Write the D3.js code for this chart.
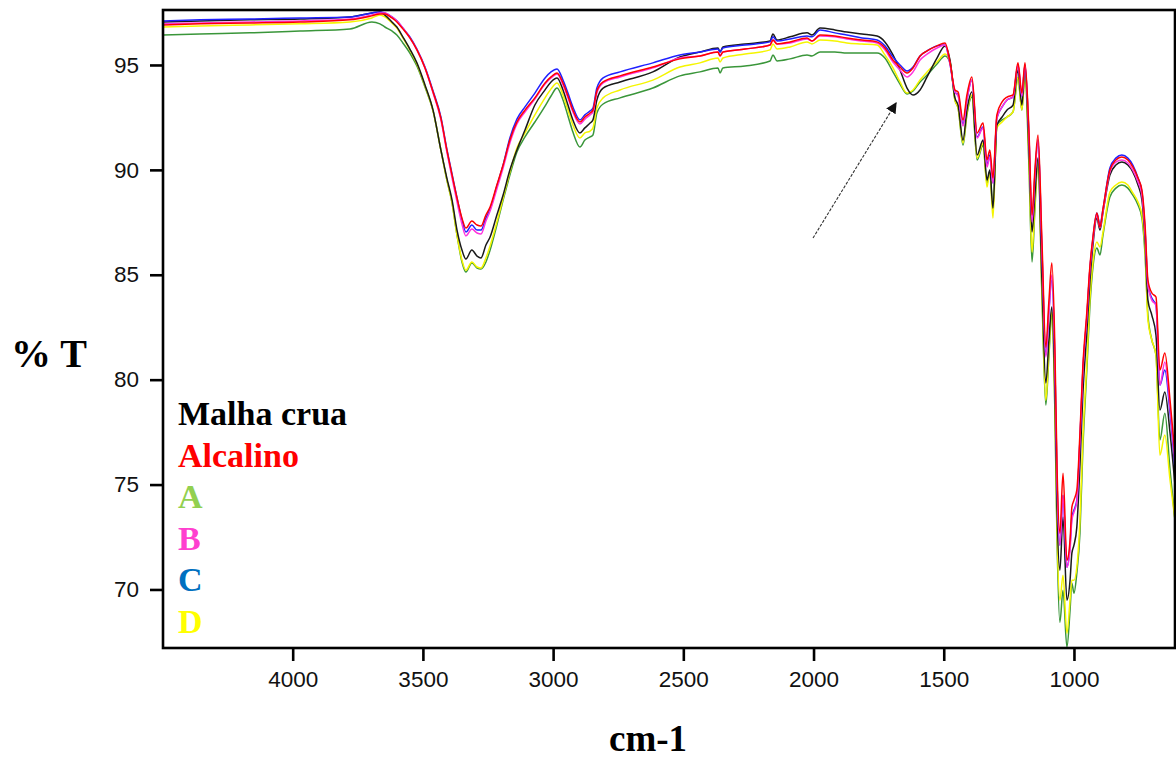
<!DOCTYPE html>
<html>
<head>
<meta charset="utf-8">
<script src="https://cdn.jsdelivr.net/npm/d3@7"></script>
<style>
  html, body { margin: 0; padding: 0; background: #fff; }
  svg { display: block; }
</style>
</head>
<body>
<svg id="chart" width="1176" height="758"></svg>
<script>
// FTIR spectra, % transmittance vs wavenumber (cm-1)
const wavenumbers = [4498, 4356, 4164, 3972, 3780, 3696, 3665, 3646, 3619, 3600,
  3577, 3550, 3523, 3492, 3461, 3431, 3408, 3388, 3369, 3350,
  3335, 3312, 3292, 3277, 3258, 3242, 3216, 3192, 3166, 3139,
  3108, 3070, 3031, 3008, 2985, 2962, 2943, 2924, 2897, 2878,
  2858, 2847, 2832, 2808, 2743, 2617, 2513, 2436, 2367, 2359,
  2348, 2263, 2167, 2156, 2140, 2090, 2025, 2006, 1975, 1918,
  1872, 1814, 1756, 1726, 1695, 1668, 1641, 1618, 1591, 1564,
  1526, 1495, 1476, 1457, 1445, 1426, 1411, 1392, 1372, 1349,
  1334, 1323, 1311, 1296, 1276, 1257, 1234, 1215, 1200, 1188,
  1173, 1161, 1150, 1138, 1123, 1108, 1096, 1085, 1073, 1065,
  1054, 1042, 1027, 1015, 1008, 1000, 989, 977, 966, 950,
  939, 927, 912, 900, 889, 862, 839, 816, 793, 774,
  754, 739, 727, 716, 701, 685, 670, 651, 631, 612];

const malhaCrua = [97.05, 97.10, 97.15, 97.19, 97.29, 97.48, 97.53, 97.38, 97.05, 96.81,
  96.34, 95.76, 95.10, 94.05, 92.85, 90.95, 89.61, 88.56, 87.13, 86.18,
  85.75, 86.18, 85.89, 85.80, 86.42, 86.80, 87.85, 88.80, 89.99, 90.95,
  91.90, 93.09, 93.81, 94.19, 94.38, 93.81, 93.09, 92.38, 91.76, 92.00,
  92.23, 92.38, 93.33, 93.90, 94.19, 94.67, 95.38, 95.62, 95.81, 95.62,
  95.86, 96.00, 96.14, 96.48, 96.19, 96.34, 96.53, 96.43, 96.76, 96.67,
  96.57, 96.48, 96.38, 96.10, 95.48, 94.76, 93.90, 93.57, 93.81, 94.43,
  95.33, 95.91, 95.24, 93.43, 93.09, 91.42, 92.85, 93.71, 90.71, 91.42,
  89.52, 89.99, 88.18, 92.14, 92.52, 92.85, 93.09, 94.76, 93.09, 94.86,
  90.95, 87.04, 88.80, 90.56, 84.75, 79.84, 81.89, 83.46, 79.26, 73.78,
  70.92, 73.45, 69.49, 70.44, 71.73, 72.11, 72.97, 75.93, 79.26, 82.36,
  84.65, 86.42, 87.70, 87.13, 87.94, 89.75, 90.23, 90.37, 90.23, 89.90,
  89.28, 88.56, 86.65, 83.79, 83.08, 82.12, 78.55, 79.41, 77.45, 74.97];

const alcalino = [96.91, 96.96, 97.00, 97.05, 97.15, 97.34, 97.43, 97.43, 97.24, 97.05,
  96.72, 96.29, 95.72, 94.86, 93.71, 92.47, 90.95, 89.75, 88.66, 87.70,
  87.23, 87.56, 87.37, 87.32, 87.85, 88.23, 89.28, 90.23, 91.42, 92.28,
  92.85, 93.43, 94.14, 94.43, 94.62, 94.14, 93.52, 92.85, 92.28, 92.52,
  92.71, 92.85, 93.76, 94.19, 94.48, 94.90, 95.29, 95.43, 95.62, 95.43,
  95.62, 95.76, 95.95, 96.19, 96.00, 96.10, 96.29, 96.14, 96.43, 96.38,
  96.29, 96.19, 96.10, 95.81, 95.24, 94.90, 94.62, 94.86, 95.43, 95.67,
  95.91, 96.05, 95.14, 93.81, 93.71, 92.38, 93.57, 94.43, 91.76, 92.23,
  90.47, 90.95, 89.61, 92.62, 93.24, 93.47, 93.57, 95.10, 93.66, 95.10,
  91.90, 87.85, 89.99, 91.66, 86.65, 81.55, 83.79, 85.56, 81.41, 75.83,
  72.68, 75.54, 71.39, 72.35, 73.92, 74.26, 74.73, 77.45, 80.60, 83.32,
  85.37, 86.80, 87.94, 87.27, 88.09, 89.99, 90.47, 90.61, 90.47, 90.14,
  89.61, 89.04, 87.37, 84.75, 84.13, 83.94, 80.46, 81.27, 79.02, 76.40];

const amostraA = [96.43, 96.48, 96.53, 96.62, 96.72, 97.05, 96.96, 96.81, 96.62, 96.43,
  96.05, 95.57, 94.95, 93.95, 92.81, 90.95, 89.52, 88.42, 86.89, 85.61,
  85.13, 85.56, 85.32, 85.27, 85.61, 86.18, 87.37, 88.56, 89.75, 90.85,
  91.57, 92.28, 93.04, 93.52, 93.90, 93.33, 92.57, 91.80, 91.09, 91.42,
  91.57, 91.66, 92.71, 93.14, 93.43, 93.90, 94.48, 94.67, 94.86, 94.62,
  94.86, 94.95, 95.19, 95.48, 95.19, 95.29, 95.48, 95.43, 95.62, 95.62,
  95.57, 95.57, 95.57, 95.33, 94.67, 94.09, 93.62, 93.76, 94.19, 94.52,
  95.05, 95.43, 95.14, 93.33, 92.95, 91.18, 92.62, 93.47, 90.47, 91.18,
  89.37, 89.90, 88.09, 92.14, 92.38, 92.52, 92.76, 94.38, 92.85, 94.52,
  90.23, 85.61, 88.09, 90.47, 84.03, 78.79, 81.17, 83.08, 78.31, 72.35,
  68.44, 69.96, 67.25, 69.01, 70.30, 69.82, 70.77, 72.68, 76.64, 80.60,
  83.46, 85.37, 86.27, 85.94, 86.85, 88.71, 89.13, 89.28, 89.13, 88.80,
  88.32, 87.70, 85.94, 83.08, 81.89, 81.17, 77.12, 78.40, 75.69, 73.30];

const amostraB = [96.96, 97.00, 97.05, 97.10, 97.19, 97.38, 97.48, 97.48, 97.29, 97.10,
  96.76, 96.29, 95.72, 94.86, 93.66, 92.38, 90.85, 89.61, 88.47, 87.42,
  86.85, 87.18, 86.99, 86.94, 87.56, 88.04, 89.09, 90.09, 91.28, 92.19,
  92.76, 93.38, 94.09, 94.38, 94.57, 94.05, 93.43, 92.76, 92.19, 92.42,
  92.62, 92.76, 93.66, 94.14, 94.43, 94.86, 95.33, 95.43, 95.62, 95.43,
  95.62, 95.76, 95.95, 96.19, 96.00, 96.05, 96.24, 96.14, 96.38, 96.34,
  96.24, 96.14, 96.05, 95.72, 95.14, 94.76, 94.43, 94.67, 95.24, 95.52,
  95.81, 95.95, 95.05, 93.71, 93.52, 92.09, 93.33, 94.28, 91.52, 92.00,
  90.14, 90.61, 89.37, 92.47, 93.00, 93.33, 93.47, 95.00, 93.52, 95.00,
  91.66, 87.51, 89.66, 91.42, 86.18, 81.08, 83.22, 84.99, 80.69, 75.21,
  72.11, 74.49, 71.06, 71.87, 73.30, 73.68, 74.16, 77.12, 80.36, 83.08,
  85.22, 86.65, 87.85, 87.23, 87.99, 89.90, 90.37, 90.47, 90.33, 89.99,
  89.42, 88.80, 87.04, 84.51, 83.79, 83.55, 79.74, 80.84, 78.64, 75.93];

const amostraC = [97.10, 97.15, 97.19, 97.24, 97.29, 97.48, 97.53, 97.48, 97.29, 97.10,
  96.76, 96.34, 95.76, 94.90, 93.76, 92.52, 90.99, 89.80, 88.66, 87.61,
  87.04, 87.37, 87.13, 87.13, 87.70, 88.13, 89.23, 90.23, 91.52, 92.42,
  93.00, 93.66, 94.38, 94.67, 94.81, 94.28, 93.66, 93.00, 92.38, 92.62,
  92.81, 92.95, 93.90, 94.38, 94.67, 95.10, 95.48, 95.62, 95.76, 95.62,
  95.81, 95.95, 96.10, 96.34, 96.14, 96.24, 96.38, 96.34, 96.67, 96.53,
  96.43, 96.29, 96.19, 95.91, 95.38, 95.00, 94.71, 94.90, 95.43, 95.67,
  95.91, 95.95, 95.05, 93.71, 93.57, 92.19, 93.33, 94.28, 91.57, 92.04,
  90.23, 90.71, 89.37, 92.47, 93.00, 93.33, 93.47, 95.00, 93.52, 95.00,
  91.66, 87.61, 89.75, 91.42, 86.18, 81.17, 83.32, 84.75, 80.69, 75.21,
  72.11, 74.49, 71.06, 72.11, 73.45, 73.78, 74.26, 77.12, 80.36, 83.08,
  85.22, 86.75, 87.94, 87.37, 88.09, 90.09, 90.56, 90.71, 90.56, 90.23,
  89.61, 88.94, 87.13, 84.51, 83.89, 83.55, 79.74, 80.46, 78.40, 75.69];

const amostraD = [96.81, 96.86, 96.91, 96.96, 97.05, 97.24, 97.38, 97.29, 97.00, 96.76,
  96.29, 95.72, 95.05, 94.00, 92.81, 90.95, 89.52, 88.42, 86.89, 85.70,
  85.22, 85.61, 85.37, 85.32, 85.80, 86.37, 87.51, 88.66, 89.90, 91.04,
  91.76, 92.62, 93.43, 93.86, 94.14, 93.57, 92.85, 92.14, 91.52, 91.76,
  91.85, 92.00, 92.95, 93.43, 93.81, 94.28, 94.90, 95.10, 95.33, 95.14,
  95.33, 95.52, 95.72, 96.00, 95.76, 95.86, 96.10, 96.00, 96.19, 96.14,
  96.05, 96.00, 95.95, 95.48, 94.86, 94.19, 93.66, 93.81, 94.28, 94.67,
  95.14, 95.52, 95.14, 93.33, 92.95, 91.28, 92.71, 93.57, 90.56, 91.28,
  89.18, 89.90, 87.70, 92.00, 92.28, 92.52, 92.76, 94.43, 92.85, 94.52,
  90.47, 86.08, 88.32, 90.47, 84.27, 79.02, 81.41, 83.22, 78.55, 72.83,
  69.49, 70.68, 67.91, 69.49, 70.44, 70.44, 71.06, 73.30, 77.12, 80.93,
  83.79, 85.61, 86.56, 86.32, 86.99, 88.94, 89.28, 89.42, 89.28, 88.90,
  88.47, 87.85, 86.18, 82.84, 81.89, 81.17, 76.40, 77.36, 75.21, 73.30];

const seriesNames = ["Malha crua", "Alcalino", "A", "B", "C", "D"];
const labelColors = ["#000000", "#ff0000", "#92d050", "#ff3fcf", "#0070c0", "#ffff00"];
const lineColors  = ["#1a1a1a", "#ff0000", "#3a963a", "#ff33dd", "#2020ff", "#f5f500"];
const seriesValues = [malhaCrua, alcalino, amostraA, amostraB, amostraC, amostraD];
// back-to-front drawing order
const drawOrder = [2, 5, 0, 4, 3, 1];

const xTicks = [4000, 3500, 3000, 2500, 2000, 1500, 1000];
const yTicks = [70, 75, 80, 85, 90, 95];

const plot = { left: 163, top: 10, right: 1175, bottom: 648 };
const svg = d3.select("#chart");

const x = d3.scaleLinear().domain([4498, 612]).range([plot.left, plot.right]);
const y = d3.scaleLinear().domain([67.21, 97.62]).range([plot.bottom, plot.top]);

svg.append("defs").append("clipPath").attr("id", "plotClip")
  .append("rect")
  .attr("x", plot.left).attr("y", plot.top)
  .attr("width", plot.right - plot.left).attr("height", plot.bottom - plot.top);

// spectra
const line = d3.line()
  .x(d => x(d[0]))
  .y(d => y(d[1]))
  .curve(d3.curveMonotoneX);

const g = svg.append("g").attr("clip-path", "url(#plotClip)");
drawOrder.forEach(i => {
  const pts = wavenumbers.map((w, k) => [w, seriesValues[i][k]]);
  g.append("path")
    .datum(pts)
    .attr("d", line)
    .attr("fill", "none")
    .attr("stroke", lineColors[i])
    .attr("stroke-width", 1.5)
    .attr("stroke-linejoin", "round");
});

// frame
svg.append("rect")
  .attr("x", plot.left).attr("y", plot.top)
  .attr("width", plot.right - plot.left).attr("height", plot.bottom - plot.top)
  .attr("fill", "none").attr("stroke", "#000").attr("stroke-width", 2.6);

// axes
const tickFont = "'Liberation Sans', Arial, sans-serif";
const xAxis = d3.axisBottom(x).tickValues(xTicks).tickFormat(d3.format("d"))
  .tickSize(13).tickPadding(10).tickSizeOuter(0);
const gx = svg.append("g").attr("transform", `translate(0,${plot.bottom})`).call(xAxis);
const yAxis = d3.axisLeft(y).tickValues(yTicks).tickFormat(d3.format("d"))
  .tickSize(13).tickPadding(11).tickSizeOuter(0);
const gy = svg.append("g").attr("transform", `translate(${plot.left},0)`).call(yAxis);
[gx, gy].forEach(a => {
  a.select(".domain").remove();
  a.selectAll(".tick line").attr("stroke", "#000").attr("stroke-width", 2.6);
  a.selectAll(".tick text")
    .attr("fill", "#111")
    .style("font-family", tickFont)
    .style("font-size", "22.5px");
});

// annotation arrow
svg.append("defs").append("marker")
  .attr("id", "arrowHead")
  .attr("viewBox", "0 0 10 10")
  .attr("refX", 9).attr("refY", 5)
  .attr("markerWidth", 11).attr("markerHeight", 11)
  .attr("markerUnits", "userSpaceOnUse")
  .attr("orient", "auto")
  .append("path").attr("d", "M0,0 L10,5 L0,10 Z").attr("fill", "#111");

svg.append("line")
  .attr("x1", x(2002)).attr("y1", y(86.75))
  .attr("x2", x(1683)).attr("y2", y(93.19))
  .attr("stroke", "#333").attr("stroke-width", 1.1)
  .attr("stroke-dasharray", "3,1.5")
  .attr("marker-end", "url(#arrowHead)");

// legend
const serif = "'Liberation Serif', 'Times New Roman', serif";
const legend = svg.append("g");
seriesNames.forEach((name, i) => {
  legend.append("text")
    .attr("x", 178)
    .attr("y", 425 + i * 41.5)
    .attr("fill", labelColors[i])
    .style("font-family", serif)
    .style("font-weight", "bold")
    .style("font-size", "34px")
    .text(name);
});

// axis titles
svg.append("text")
  .attr("x", 11).attr("y", 367)
  .style("font-family", serif).style("font-weight", "bold").style("font-size", "40px")
  .attr("fill", "#000")
  .text("% T");

svg.append("text")
  .attr("x", 648).attr("y", 751)
  .attr("text-anchor", "middle")
  .style("font-family", serif).style("font-weight", "bold").style("font-size", "37px")
  .attr("fill", "#000")
  .text("cm-1");
</script>
</body>
</html>
